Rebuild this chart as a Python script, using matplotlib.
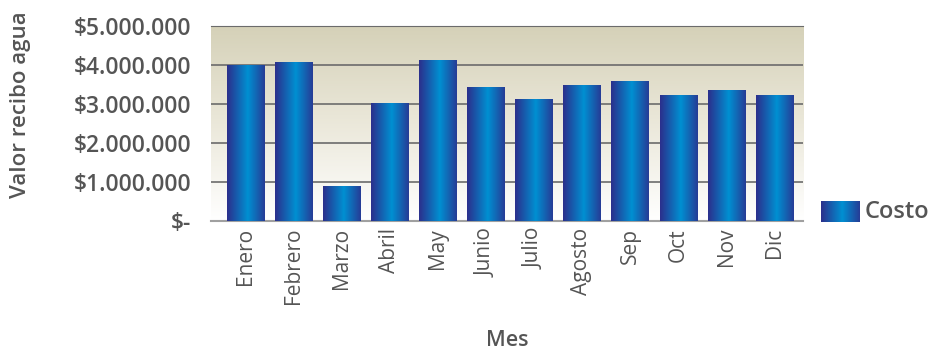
import numpy as np
import matplotlib.pyplot as plt
from matplotlib.colors import LinearSegmentedColormap
from matplotlib.ticker import FuncFormatter

meses = ['Enero', 'Febrero', 'Marzo', 'Abril', 'May', 'Junio',
         'Julio', 'Agosto', 'Sep', 'Oct', 'Nov', 'Dic']
costo = [4000000, 4080000, 900000, 3030000, 4130000, 3440000,
         3130000, 3490000, 3590000, 3230000, 3360000, 3230000]
yticks = [0, 1000000, 2000000, 3000000, 4000000, 5000000]

plt.rcParams['font.family'] = ['Open Sans', 'DejaVu Sans']
gray = '#555555'

fig = plt.figure(figsize=(9.31, 3.5), dpi=100)
ax = fig.add_axes([0.2266, 0.3686, 0.6359, 0.5571])
xlo, xhi = -0.72, len(meses) - 0.4

# background gradient (top beige -> white at bottom)
bg = LinearSegmentedColormap.from_list('bg', ['#ffffff', '#ebe8da', '#d5d1b8'])
ax.imshow(np.linspace(0, 1, 256).reshape(-1, 1), cmap=bg, aspect='auto',
          extent=(xlo, xhi, 0, 5000000), origin='lower', zorder=0)

grad = LinearSegmentedColormap.from_list(
    'bar', [(0, '#2b2f8c'), (0.55, '#0090d2'), (1, '#263c96')])
strip = np.linspace(0, 1, 128).reshape(1, -1)

x = np.arange(len(meses))
bars = ax.bar(x, costo, width=0.77, color='none', zorder=3)
for b in bars:
    im = ax.imshow(strip, cmap=grad, aspect='auto',
                   extent=(b.get_x(), b.get_x() + b.get_width(), 0, b.get_height()),
                   zorder=3)
    im.set_clip_path(b)

ax.set_xlim(xlo, xhi)
ax.set_ylim(0, 5000000)
ax.set_yticks(yticks)
ax.yaxis.grid(True, color='#6b6b6b', lw=1.2, zorder=1)
ax.set_axisbelow(True)


def fmt(v, _):
    if v == 0:
        return '$-'
    return '$' + f'{int(v):,}'.replace(',', '.')


ax.yaxis.set_major_formatter(FuncFormatter(fmt))
ax.set_xticks(x)
ax.set_xticklabels(meses, rotation=90, fontsize=15, color=gray)
for lab in ax.get_yticklabels():
    lab.set_fontsize(16.5)
    lab.set_fontweight('semibold')
    lab.set_color(gray)
ax.tick_params(length=0, pad=5)
ax.tick_params(axis='y', pad=14)

for s in ['left', 'right']:
    ax.spines[s].set_visible(False)
ax.spines['top'].set_color('#6b6b6b')
ax.spines['bottom'].set_color('#a0a0a0')
ax.spines['bottom'].set_linewidth(1.5)

fig.text(507 / 931, 1 - 341 / 350, 'Mes', fontsize=15.5, fontweight='semibold',
         color=gray, ha='center', va='center')
fig.text(0.022, 0.70, 'Valor recibo agua', rotation=90, ha='center', va='center',
         fontsize=16, fontweight='semibold', color=gray)

# legend
lax = fig.add_axes([821 / 931, 1 - 222 / 350, 38 / 931, 21 / 350])
lax.imshow(strip, cmap=grad, aspect='auto')
lax.axis('off')
fig.text(865 / 931, 1 - 212 / 350, 'Costo', fontsize=17, fontweight='semibold',
         color=gray, va='center', ha='left')

fig.savefig('out.png', dpi=100)
